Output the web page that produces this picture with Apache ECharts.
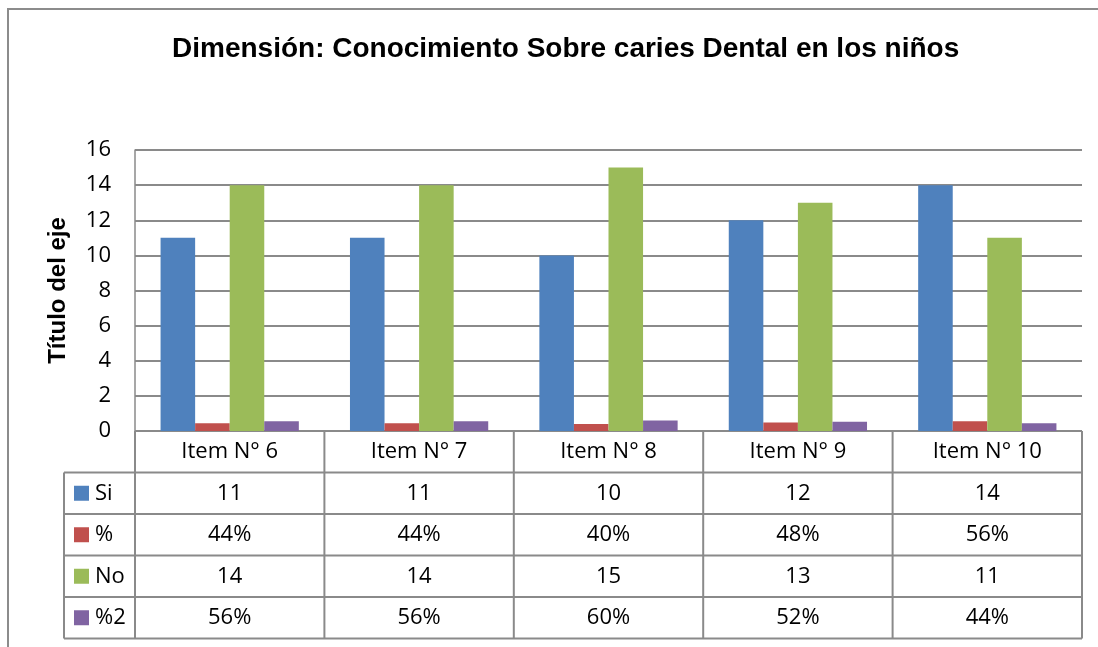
<!DOCTYPE html>
<html>
<head>
<meta charset="utf-8">
<script src="https://cdn.jsdelivr.net/npm/echarts@6/dist/echarts.min.js"></script>
<style>html,body{margin:0;padding:0;background:#fff}#c{width:1098px;height:647px}</style>
</head>
<body>
<div id="c"></div>
<script>
const categories = ['Item N° 6', 'Item N° 7', 'Item N° 8', 'Item N° 9', 'Item N° 10'];
const seriesNames = ['Si', '%', 'No', '%2'];
const si = [11, 11, 10, 12, 14];
const pct1 = [0.44, 0.44, 0.40, 0.48, 0.56];
const no = [14, 14, 15, 13, 11];
const pct2 = [0.56, 0.56, 0.60, 0.52, 0.44];
const yTicks = [0, 2, 4, 6, 8, 10, 12, 14, 16];
const colors = ['#4F81BD', '#C0504D', '#9BBB59', '#8064A2'];

const seriesData = [si, pct1, no, pct2];
const fmt = [v => String(v), v => Math.round(v * 100) + '%', v => String(v), v => Math.round(v * 100) + '%'];
const FONT = '"Open Sans", "Noto Sans", sans-serif';
const BOLD = '"Liberation Sans", Arial, sans-serif';
const FS = 22;
const LINE = '#8a8a8a';

const chart = echarts.init(document.getElementById('c'), null, {renderer: 'canvas'});
const base = {
  animation: false,
  backgroundColor: '#fff',
  title: {
    text: 'Dimensión: Conocimiento Sobre caries Dental en los niños',
    left: 167, top: 30,
    textStyle: {fontFamily: BOLD, fontWeight: 'bold', fontSize: 28, color: '#000'}
  },
  grid: {left: 135, right: 16, top: 150, bottom: 216, containLabel: false},
  xAxis: {
    type: 'category', data: categories,
    axisLine: {show: false}, axisTick: {show: false}, axisLabel: {show: false},
    splitLine: {show: false}
  },
  yAxis: {
    type: 'value', min: yTicks[0], max: yTicks[yTicks.length - 1], interval: 2,
    name: 'Título del eje', nameLocation: 'middle', nameGap: 65, nameRotate: 90,
    nameTextStyle: {fontFamily: BOLD, fontWeight: 'bold', fontSize: 24, color: '#000'},
    axisLine: {show: true, lineStyle: {color: LINE, width: 1.5}},
    axisTick: {show: false},
    axisLabel: {fontFamily: FONT, fontSize: FS, color: '#000', margin: 24},
    splitLine: {show: true, lineStyle: {color: LINE, width: 2}}
  },
  series: seriesNames.map((n, i) => ({
    name: n, type: 'bar', data: seriesData[i],
    barGap: '0%', barCategoryGap: '27%',
    itemStyle: {color: colors[i]}
  }))
};
chart.setOption(base);

// Build data table from axis geometry
const gLeft = 135, gRight = 1098 - 16;
const y0 = chart.convertToPixel({yAxisIndex: 0}, 0);
const band = (gRight - gLeft) / categories.length;
const rowH = 41.5;
const tableLeft = 64;
const g = [];
const lineStyle = {stroke: LINE, lineWidth: 2};
g.push({type: 'rect', shape: {x: 8, y: 9, width: 1200, height: 800}, style: {fill: 'none', stroke: '#8c8c8c', lineWidth: 2}, silent: true});
const tableTop = y0;
const nRows = seriesNames.length;
const tableBottom = tableTop + rowH * (nRows + 1);
g.push({type: 'line', shape: {x1: gLeft, y1: tableTop, x2: gRight, y2: tableTop}, style: lineStyle});
for (let r = 1; r <= nRows + 1; r++) {
  const y = tableTop + rowH * r;
  g.push({type: 'line', shape: {x1: tableLeft, y1: y, x2: gRight, y2: y}, style: lineStyle});
}
g.push({type: 'line', shape: {x1: tableLeft, y1: tableTop + rowH, x2: tableLeft, y2: tableBottom}, style: lineStyle});
for (let c = 0; c <= categories.length; c++) {
  const x = gLeft + band * c;
  g.push({type: 'line', shape: {x1: x, y1: tableTop, x2: x, y2: tableBottom}, style: lineStyle});
}
categories.forEach((cat, c) => {
  const cx = chart.convertToPixel({xAxisIndex: 0}, cat);
  g.push({type: 'text', x: cx, y: tableTop + rowH / 2, style: {text: cat, fontFamily: FONT, fontSize: FS, fill: '#000', align: 'center', verticalAlign: 'middle'}});
  seriesData.forEach((arr, r) => {
    g.push({type: 'text', x: cx, y: tableTop + rowH * (r + 1.5), style: {text: fmt[r](arr[c]), fontFamily: FONT, fontSize: FS, fill: '#000', align: 'center', verticalAlign: 'middle'}});
  });
});
seriesNames.forEach((n, r) => {
  const cy = tableTop + rowH * (r + 1.5);
  g.push({type: 'rect', shape: {x: 74, y: cy - 7.5, width: 15, height: 15}, style: {fill: colors[r]}});
  g.push({type: 'text', x: 95, y: cy, style: {text: n, fontFamily: FONT, fontSize: FS, fill: '#000', align: 'left', verticalAlign: 'middle'}});
});
chart.setOption({graphic: g});
</script>
</body>
</html>
